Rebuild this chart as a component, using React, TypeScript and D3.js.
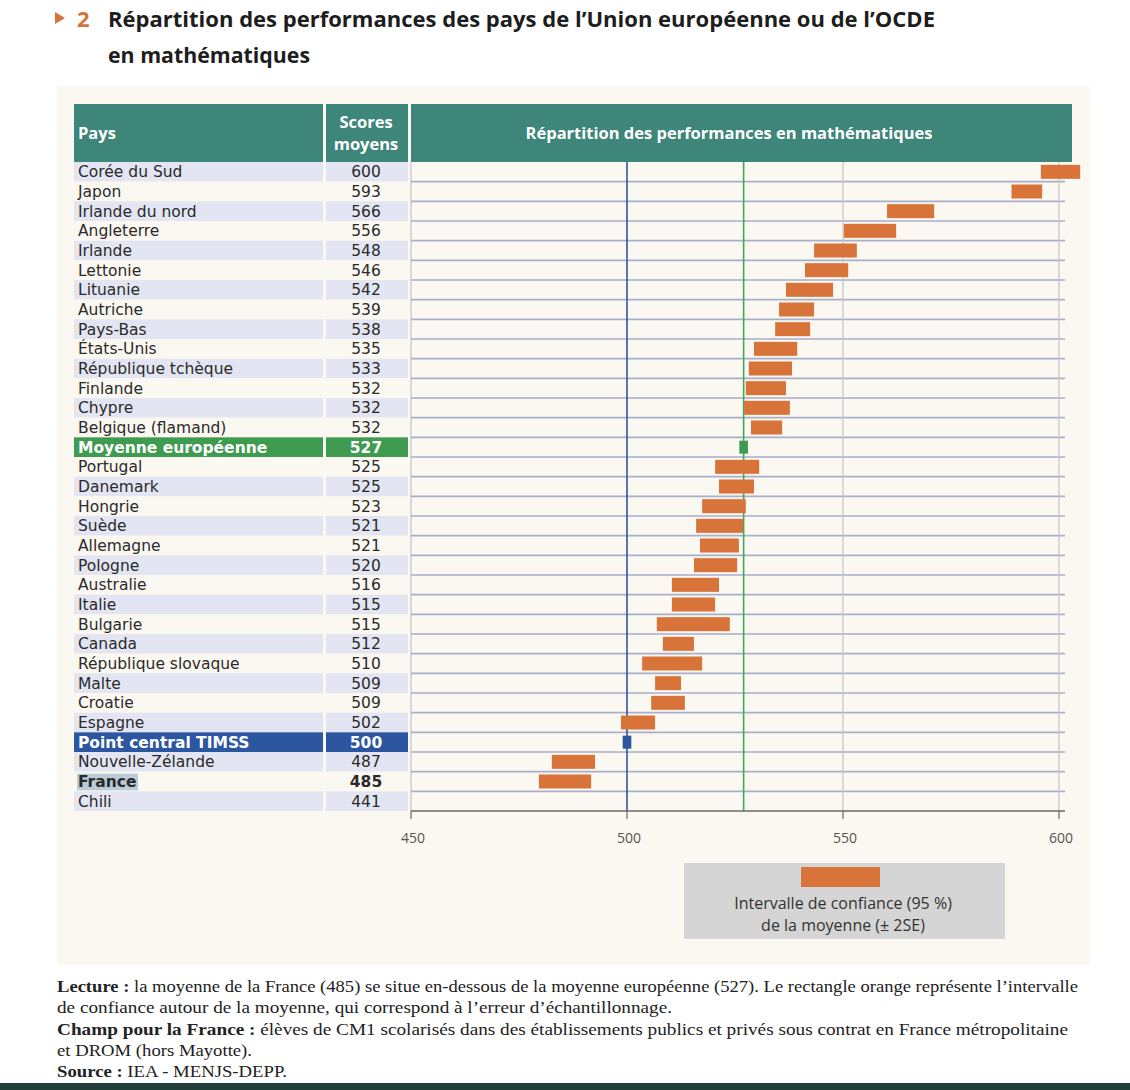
import React from "react";
import * as d3 from "d3";

const countries = [
  "Corée du Sud", "Japon", "Irlande du nord", "Angleterre", "Irlande", "Lettonie", "Lituanie",
  "Autriche", "Pays-Bas", "États-Unis", "République tchèque", "Finlande", "Chypre",
  "Belgique (flamand)", "Moyenne européenne", "Portugal", "Danemark", "Hongrie", "Suède",
  "Allemagne", "Pologne", "Australie", "Italie", "Bulgarie", "Canada", "République slovaque",
  "Malte", "Croatie", "Espagne", "Point central TIMSS", "Nouvelle-Zélande", "France", "Chili",
];
const scores = [600, 593, 566, 556, 548, 546, 542, 539, 538, 535, 533, 532, 532, 532, 527, 525, 525, 523, 521, 521, 520, 516, 515, 515, 512, 510, 509, 509, 502, 500, 487, 485, 441];
const ciLow: (number | null)[] = [595.8, 589, 560.2, 550.2, 543.3, 541.2, 536.8, 535.2, 534.3, 529.4, 528.2, 527.5, 527.1, 528.7, 526, 520.4, 521.3, 517.4, 516, 516.9, 515.5, 510.4, 510.4, 506.9, 508.3, 503.5, 506.5, 505.6, 498.6, 499, 482.6, 479.6, null];
const ciHigh: (number | null)[] = [604.9, 596.1, 571.1, 562.3, 553.2, 551.2, 547.7, 543.3, 542.4, 539.4, 538.2, 536.8, 537.7, 535.9, 528, 530.6, 529.4, 527.5, 526.9, 525.9, 525.5, 521.3, 520.4, 523.8, 515.5, 517.4, 512.5, 513.4, 506.5, 501, 492.6, 491.7, null];
const xTicks = [450, 500, 550, 600];
const euAverage = 527;
const timssCentre = 500;

const TEAL = "#3E857A";
const ORANGE = "#D8733A";
const LAV = "#E3E6F2";
const CREAM = "#FBF8F1";
const GREEN = "#3E9B50";
const BLUE = "#2C56A0";
const SANS = "'Open Sans', sans-serif";
const ROWF = "'DejaVu Sans', sans-serif";
const SERIF = "'Liberation Serif', serif";

export default function App() {
  const x = d3.scaleLinear().domain([450, 600]).range([411, 1059]);
  const y = d3.scaleBand<string>().domain(countries).range([162, 811]);
  const bh = y.bandwidth();
  const chartL = 411, chartR = 1065, top = 162, bottom = 811;

  return (
    <svg width={1130} height={1090} style={{ position: "absolute", left: 0, top: 0, background: "#fff" }}>
      {/* Title */}
      <path d="M55,12 L65,18 L55,24 Z" fill={ORANGE} />
      <text x={77} y={27} fontFamily={SANS} fontWeight={700} fontSize={22} fill={ORANGE}>2</text>
      <text x={108} y={27} fontFamily={SANS} fontWeight={700} fontSize={22} fill="#1d1d1d" textLength={827} lengthAdjust="spacingAndGlyphs">
        Répartition des performances des pays de l’Union européenne ou de l’OCDE
      </text>
      <text x={108} y={63} fontFamily={SANS} fontWeight={700} fontSize={22} fill="#1d1d1d" textLength={202} lengthAdjust="spacingAndGlyphs">
        en mathématiques
      </text>

      {/* Panel */}
      <rect x={57} y={86} width={1033} height={879} fill={CREAM} />

      {/* Header */}
      <rect x={74} y={104} width={249} height={58} fill={TEAL} />
      <rect x={326} y={104} width={82} height={58} fill={TEAL} />
      <rect x={411} y={104} width={661} height={58} fill={TEAL} />
      <text x={78} y={139} fontFamily={SANS} fontWeight={700} fontSize={16.5} fill="#fff">Pays</text>
      <text x={366} y={128} textAnchor="middle" fontFamily={SANS} fontWeight={700} fontSize={16.5} fill="#fff">Scores</text>
      <text x={366} y={150} textAnchor="middle" fontFamily={SANS} fontWeight={700} fontSize={16.5} fill="#fff">moyens</text>
      <text x={729} y={139} textAnchor="middle" fontFamily={SANS} fontWeight={700} fontSize={16.5} fill="#fff">
        Répartition des performances en mathématiques
      </text>

      {/* Rows in table columns */}
      {countries.map((c, i) => {
        const yy = y(c)!;
        const special = c === "Moyenne européenne" ? GREEN : c === "Point central TIMSS" ? BLUE : null;
        const fill = special ?? (i % 2 === 0 ? LAV : CREAM);
        const isFrance = c === "France";
        const bold = special !== null || isFrance;
        const color = special ? "#fff" : "#2a2a2a";
        return (
          <g key={c}>
            <rect x={74} y={yy} width={249} height={bh} fill={fill} />
            <rect x={326} y={yy} width={82} height={bh} fill={fill} />
            {isFrance && <rect x={77} y={yy + 2} width={61} height={bh - 3} fill="#B9CCD8" />}
            <text x={78} y={yy + bh / 2 + 5.5} fontFamily={ROWF} fontSize={15.5} fontWeight={bold ? 700 : 400} fill={color}>{c}</text>
            <text x={366} y={yy + bh / 2 + 5.5} textAnchor="middle" fontFamily={ROWF} fontSize={15.5} fontWeight={bold ? 700 : 400} fill={color}>{scores[i]}</text>
          </g>
        );
      })}

      {/* Chart grid */}
      <line x1={chartL} x2={chartL} y1={top} y2={bottom} stroke="#B8B8C0" strokeWidth={1} />
      {countries.slice(0, -1).map((c) => (
        <line key={"h" + c} x1={chartL} x2={chartR} y1={y(c)! + bh} y2={y(c)! + bh} stroke="#A9AECB" strokeWidth={1.6} />
      ))}
      {[550, 600].map((v) => (
        <line key={"v" + v} x1={x(v)} x2={x(v)} y1={top} y2={bottom} stroke="#C6C6C6" strokeWidth={1.3} />
      ))}
      <line x1={x(timssCentre)} x2={x(timssCentre)} y1={top} y2={bottom} stroke={BLUE} strokeWidth={1.6} />
      <line x1={x(euAverage)} x2={x(euAverage)} y1={top} y2={bottom} stroke="#3DAA5A" strokeWidth={1.6} />

      {/* Bars */}
      {countries.map((c, i) => {
        const lo = ciLow[i], hi = ciHigh[i];
        if (lo === null || hi === null) return null;
        const fill = c === "Moyenne européenne" ? "#3E9B50" : c === "Point central TIMSS" ? BLUE : ORANGE;
        const h = fill === ORANGE ? 14 : 13;
        return <rect key={"b" + c} x={x(lo)} y={y(c)! + (bh - h) / 2} width={x(hi) - x(lo)} height={h} fill={fill} />;
      })}

      {/* Axis */}
      <line x1={chartL} x2={chartR} y1={bottom} y2={bottom} stroke="#6A6A6A" strokeWidth={1.6} />
      {xTicks.map((t) => (
        <g key={"t" + t}>
          <line x1={x(t)} x2={x(t)} y1={bottom} y2={bottom + 8} stroke="#6A6A6A" strokeWidth={1.2} />
          <text x={x(t) + 2} y={843} textAnchor="middle" fontFamily={SANS} fontSize={14} fill="#555">{t}</text>
        </g>
      ))}

      {/* Legend */}
      <rect x={684} y={863} width={321} height={76} fill="#D5D5D5" />
      <rect x={801} y={867} width={79} height={20} fill={ORANGE} />
      <text x={843} y={909} textAnchor="middle" fontFamily={SANS} fontSize={16} fill="#333">Intervalle de confiance (95 %)</text>
      <text x={843} y={931} textAnchor="middle" fontFamily={SANS} fontSize={16} fill="#333">de la moyenne (± 2SE)</text>

      {/* Footer */}
      <g fontFamily={SERIF} fontSize={17} fill="#222">
        <text x={57} y={992} textLength={1021} lengthAdjust="spacingAndGlyphs">
          <tspan fontWeight={700}>Lecture :</tspan> la moyenne de la France (485) se situe en-dessous de la moyenne européenne (527). Le rectangle orange représente l’intervalle
        </text>
        <text x={57} y={1013} textLength={615} lengthAdjust="spacingAndGlyphs">
          de confiance autour de la moyenne, qui correspond à l’erreur d’échantillonnage.
        </text>
        <text x={57} y={1035} textLength={1011} lengthAdjust="spacingAndGlyphs">
          <tspan fontWeight={700}>Champ pour la France :</tspan> élèves de CM1 scolarisés dans des établissements publics et privés sous contrat en France métropolitaine
        </text>
        <text x={57} y={1056} textLength={195} lengthAdjust="spacingAndGlyphs">et DROM (hors Mayotte).</text>
        <text x={57} y={1077} textLength={230} lengthAdjust="spacingAndGlyphs">
          <tspan fontWeight={700}>Source :</tspan> IEA - MENJS-DEPP.
        </text>
      </g>
      <rect x={0} y={1083} width={1130} height={7} fill="#1F3F38" />
    </svg>
  );
}
